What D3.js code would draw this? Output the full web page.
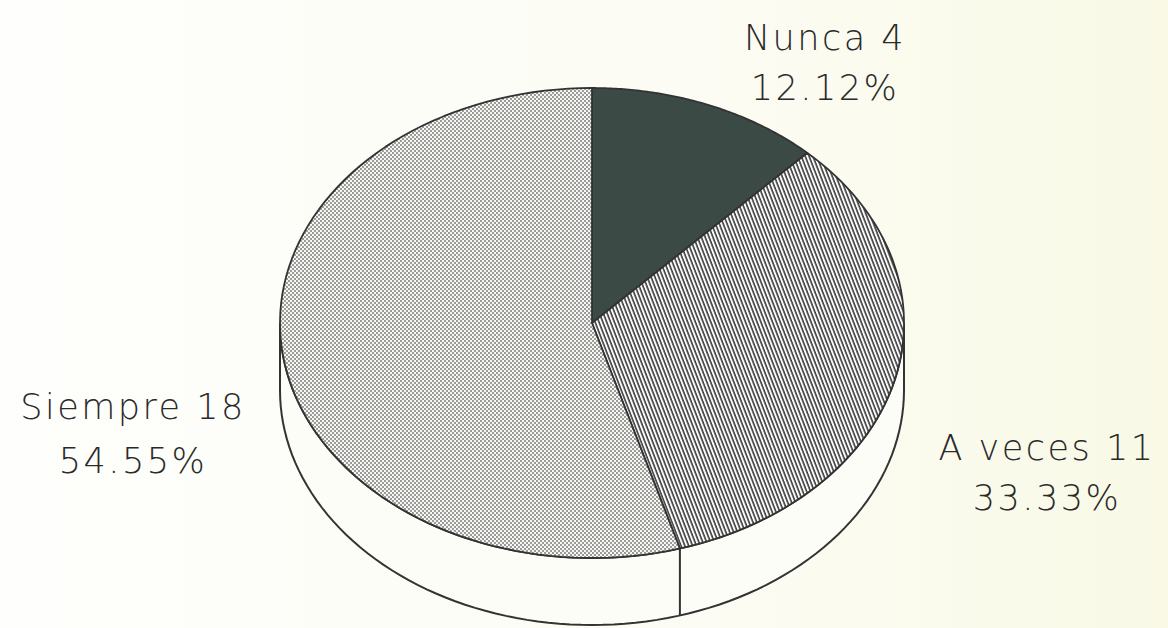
<!DOCTYPE html>
<html>
<head>
<meta charset="utf-8">
<script src="https://cdn.jsdelivr.net/npm/d3@7/dist/d3.min.js"></script>
<style>
  body { margin: 0; background: #fcfcf4; }
</style>
</head>
<body>
<script>
var w = 1168;
var h = 628;

// data
var categories = ["Nunca", "A veces", "Siempre"];
var counts = [4, 11, 18];
var percents = ["12.12%", "33.33%", "54.55%"];

var cx = 592, cy = 323;
var rx = 312, ry = 235;
var depth = 67;

var svg = d3.select("body")
    .append("svg")
    .attr("width", w)
    .attr("height", h);

var defs = svg.append("defs");

var bg = defs.append("linearGradient")
    .attr("id", "bg")
    .attr("x1", 0).attr("y1", 0).attr("x2", 1).attr("y2", 0);
bg.append("stop").attr("offset", 0).attr("stop-color", "#fefefc");
bg.append("stop").attr("offset", 0.6).attr("stop-color", "#fcfcf4");
bg.append("stop").attr("offset", 1).attr("stop-color", "#f9f9e6");

svg.append("rect")
    .attr("width", w)
    .attr("height", h)
    .attr("fill", "url(#bg)");

var stripes = defs.append("pattern")
    .attr("id", "stripes")
    .attr("patternUnits", "userSpaceOnUse")
    .attr("width", 3.6)
    .attr("height", 10)
    .attr("patternTransform", "rotate(-21)");
stripes.append("rect").attr("width", 3.6).attr("height", 10).attr("fill", "#fbfbfb");
stripes.append("line")
    .attr("x1", 1).attr("y1", 0).attr("x2", 1).attr("y2", 10)
    .attr("stroke", "#3c3c3c").attr("stroke-width", 1.6);

var dots = defs.append("pattern")
    .attr("id", "dots")
    .attr("patternUnits", "userSpaceOnUse")
    .attr("width", 4)
    .attr("height", 4);
dots.append("rect").attr("width", 4).attr("height", 4).attr("fill", "#f6f6f2");
dots.append("circle").attr("cx", 1).attr("cy", 1).attr("r", 0.9).attr("fill", "#707070");
dots.append("circle").attr("cx", 3).attr("cy", 3).attr("r", 0.9).attr("fill", "#707070");

var fills = ["#3b4a45", "url(#stripes)", "url(#dots)"];

var pie = d3.pie().sort(null)(counts);

// angle measured clockwise from 12 o'clock
function pt(a, dy) {
    return [cx + rx * Math.sin(a), cy - ry * Math.cos(a) + (dy || 0)];
}

function arcPts(a0, a1, dy) {
    var n = 90, p = [];
    for (var i = 0; i <= n; i++) p.push(pt(a0 + (a1 - a0) * i / n, dy));
    return p;
}

var line = d3.line();

// side wall, front half
var front0 = Math.PI / 2, front1 = Math.PI * 3 / 2;
var wall = arcPts(front0, front1, 0)
    .concat(arcPts(front1, front0, depth));
svg.append("path")
    .attr("d", line(wall) + "Z")
    .attr("fill", "#fdfdf8")
    .attr("stroke", "#333")
    .attr("stroke-width", 2);

// vertical edges where slice borders meet the visible wall
pie.forEach(function(d) {
    var a = d.endAngle;
    if (a > front0 && a < front1) {
        var p = pt(a, 0);
        svg.append("line")
            .attr("x1", p[0]).attr("y1", p[1])
            .attr("x2", p[0]).attr("y2", p[1] + depth)
            .attr("stroke", "#333")
            .attr("stroke-width", 2);
    }
});

// top faces
svg.selectAll(".slice")
    .data(pie)
    .enter()
    .append("path")
    .attr("class", "slice")
    .attr("d", function(d) {
        return line([[cx, cy]].concat(arcPts(d.startAngle, d.endAngle, 0))) + "Z";
    })
    .attr("fill", function(d, i) { return fills[i]; })
    .attr("stroke", "#333")
    .attr("stroke-width", 1.8)
    .attr("stroke-linejoin", "round");

// labels
var labels = [
    { x: 825, y: 50, gap: 50 },
    { x: 1047, y: 460, gap: 50 },
    { x: 133, y: 419, gap: 54 }
];

labels.forEach(function(l, i) {
    var t = svg.append("text")
        .attr("text-anchor", "middle")
        .attr("font-family", "'DejaVu Sans', sans-serif")
        .attr("font-weight", 200)
        .attr("font-size", 35)
        .attr("letter-spacing", 2.5)
        .attr("fill", "#2a2a2a");
    t.append("tspan").attr("x", l.x).attr("y", l.y).text(categories[i] + " " + counts[i]);
    t.append("tspan").attr("x", l.x).attr("y", l.y + l.gap).text(percents[i]);
});
</script>
</body>
</html>
